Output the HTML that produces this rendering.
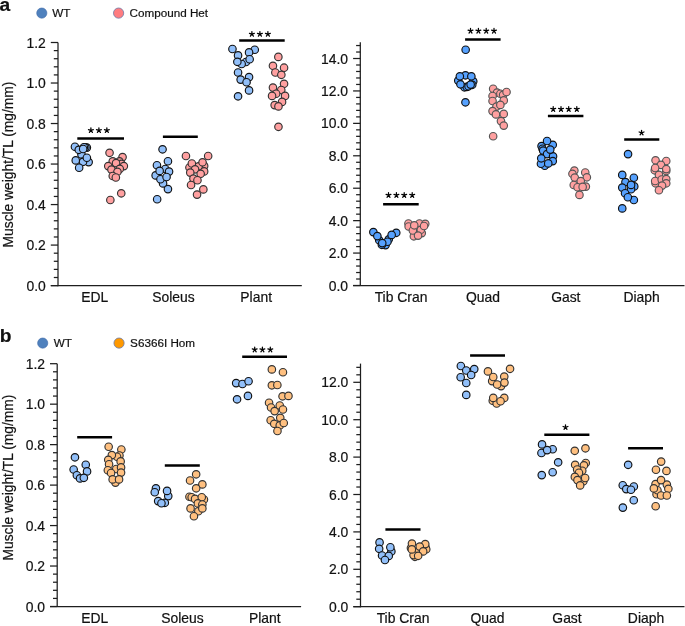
<!DOCTYPE html>
<html><head><meta charset="utf-8"><style>
html,body{margin:0;padding:0;background:#fff;width:685px;height:626px;overflow:hidden}
svg{display:block;will-change:transform}
text{font-family:"Liberation Sans", sans-serif;fill:#111;stroke:#111;stroke-width:0.2px}
</style></head><body>
<svg width="685" height="626" viewBox="0 0 685 626">
<text x="-0.5" y="10.6" font-size="19.2" font-weight="bold">a</text>
<text x="-0.2" y="341.6" font-size="19.2" font-weight="bold">b</text>
<circle cx="41.8" cy="13.1" r="5.1" fill="#4f81bd" stroke="#3d68a8" stroke-width="0.6"/>
<text x="52.3" y="17" font-size="11.7">WT</text>
<circle cx="118.6" cy="13.1" r="5.1" fill="#ff7c80" stroke="#6a7aa8" stroke-width="0.8"/>
<text x="129.5" y="17" font-size="11.7">Compound Het</text>
<circle cx="42.7" cy="343.1" r="5.1" fill="#4f81bd" stroke="#3d68a8" stroke-width="0.6"/>
<text x="53.8" y="347" font-size="11.7">WT</text>
<circle cx="119.05" cy="343.1" r="5.1" fill="#ff9900" stroke="#6a7aa8" stroke-width="0.8"/>
<text x="130.1" y="347" font-size="11.7">S6366I Hom</text>
<text transform="translate(12.6,164.5) rotate(-90)" text-anchor="middle" font-size="13.8">Muscle weight/TL (mg/mm)</text>
<text transform="translate(12.6,477.6) rotate(-90)" text-anchor="middle" font-size="13.8">Muscle weight/TL (mg/mm)</text>
<line x1="58" y1="42.50" x2="58" y2="286.20" stroke="#1e1e1e" stroke-width="1.25"/>
<line x1="50.8" y1="285.6" x2="301.8" y2="285.6" stroke="#1e1e1e" stroke-width="1.25"/>
<line x1="50.8" y1="285.60" x2="58" y2="285.60" stroke="#1e1e1e" stroke-width="1.25"/>
<text x="45.80" y="290.60" text-anchor="end" font-size="13.9">0.0</text>
<line x1="53.8" y1="277.50" x2="58" y2="277.50" stroke="#1e1e1e" stroke-width="1.25"/>
<line x1="53.8" y1="269.39" x2="58" y2="269.39" stroke="#1e1e1e" stroke-width="1.25"/>
<line x1="53.8" y1="261.29" x2="58" y2="261.29" stroke="#1e1e1e" stroke-width="1.25"/>
<line x1="53.8" y1="253.19" x2="58" y2="253.19" stroke="#1e1e1e" stroke-width="1.25"/>
<line x1="50.8" y1="245.08" x2="58" y2="245.08" stroke="#1e1e1e" stroke-width="1.25"/>
<text x="45.80" y="250.08" text-anchor="end" font-size="13.9">0.2</text>
<line x1="53.8" y1="236.98" x2="58" y2="236.98" stroke="#1e1e1e" stroke-width="1.25"/>
<line x1="53.8" y1="228.88" x2="58" y2="228.88" stroke="#1e1e1e" stroke-width="1.25"/>
<line x1="53.8" y1="220.77" x2="58" y2="220.77" stroke="#1e1e1e" stroke-width="1.25"/>
<line x1="53.8" y1="212.67" x2="58" y2="212.67" stroke="#1e1e1e" stroke-width="1.25"/>
<line x1="50.8" y1="204.57" x2="58" y2="204.57" stroke="#1e1e1e" stroke-width="1.25"/>
<text x="45.80" y="209.57" text-anchor="end" font-size="13.9">0.4</text>
<line x1="53.8" y1="196.46" x2="58" y2="196.46" stroke="#1e1e1e" stroke-width="1.25"/>
<line x1="53.8" y1="188.36" x2="58" y2="188.36" stroke="#1e1e1e" stroke-width="1.25"/>
<line x1="53.8" y1="180.26" x2="58" y2="180.26" stroke="#1e1e1e" stroke-width="1.25"/>
<line x1="53.8" y1="172.15" x2="58" y2="172.15" stroke="#1e1e1e" stroke-width="1.25"/>
<line x1="50.8" y1="164.05" x2="58" y2="164.05" stroke="#1e1e1e" stroke-width="1.25"/>
<text x="45.80" y="169.05" text-anchor="end" font-size="13.9">0.6</text>
<line x1="53.8" y1="155.95" x2="58" y2="155.95" stroke="#1e1e1e" stroke-width="1.25"/>
<line x1="53.8" y1="147.84" x2="58" y2="147.84" stroke="#1e1e1e" stroke-width="1.25"/>
<line x1="53.8" y1="139.74" x2="58" y2="139.74" stroke="#1e1e1e" stroke-width="1.25"/>
<line x1="53.8" y1="131.64" x2="58" y2="131.64" stroke="#1e1e1e" stroke-width="1.25"/>
<line x1="50.8" y1="123.53" x2="58" y2="123.53" stroke="#1e1e1e" stroke-width="1.25"/>
<text x="45.80" y="128.53" text-anchor="end" font-size="13.9">0.8</text>
<line x1="53.8" y1="115.43" x2="58" y2="115.43" stroke="#1e1e1e" stroke-width="1.25"/>
<line x1="53.8" y1="107.33" x2="58" y2="107.33" stroke="#1e1e1e" stroke-width="1.25"/>
<line x1="53.8" y1="99.22" x2="58" y2="99.22" stroke="#1e1e1e" stroke-width="1.25"/>
<line x1="53.8" y1="91.12" x2="58" y2="91.12" stroke="#1e1e1e" stroke-width="1.25"/>
<line x1="50.8" y1="83.02" x2="58" y2="83.02" stroke="#1e1e1e" stroke-width="1.25"/>
<text x="45.80" y="88.02" text-anchor="end" font-size="13.9">1.0</text>
<line x1="53.8" y1="74.91" x2="58" y2="74.91" stroke="#1e1e1e" stroke-width="1.25"/>
<line x1="53.8" y1="66.81" x2="58" y2="66.81" stroke="#1e1e1e" stroke-width="1.25"/>
<line x1="53.8" y1="58.71" x2="58" y2="58.71" stroke="#1e1e1e" stroke-width="1.25"/>
<line x1="53.8" y1="50.60" x2="58" y2="50.60" stroke="#1e1e1e" stroke-width="1.25"/>
<line x1="50.8" y1="42.50" x2="58" y2="42.50" stroke="#1e1e1e" stroke-width="1.25"/>
<text x="45.80" y="47.50" text-anchor="end" font-size="13.9">1.2</text>
<line x1="360.3" y1="42.30" x2="360.3" y2="286.10" stroke="#1e1e1e" stroke-width="1.25"/>
<line x1="353.1" y1="285.5" x2="684.5" y2="285.5" stroke="#1e1e1e" stroke-width="1.25"/>
<line x1="353.1" y1="285.50" x2="360.3" y2="285.50" stroke="#1e1e1e" stroke-width="1.25"/>
<text x="348.10" y="290.50" text-anchor="end" font-size="13.9">0.0</text>
<line x1="356.1" y1="279.01" x2="360.3" y2="279.01" stroke="#1e1e1e" stroke-width="1.25"/>
<line x1="356.1" y1="272.53" x2="360.3" y2="272.53" stroke="#1e1e1e" stroke-width="1.25"/>
<line x1="356.1" y1="266.04" x2="360.3" y2="266.04" stroke="#1e1e1e" stroke-width="1.25"/>
<line x1="356.1" y1="259.56" x2="360.3" y2="259.56" stroke="#1e1e1e" stroke-width="1.25"/>
<line x1="353.1" y1="253.07" x2="360.3" y2="253.07" stroke="#1e1e1e" stroke-width="1.25"/>
<text x="348.10" y="258.07" text-anchor="end" font-size="13.9">2.0</text>
<line x1="356.1" y1="246.59" x2="360.3" y2="246.59" stroke="#1e1e1e" stroke-width="1.25"/>
<line x1="356.1" y1="240.10" x2="360.3" y2="240.10" stroke="#1e1e1e" stroke-width="1.25"/>
<line x1="356.1" y1="233.62" x2="360.3" y2="233.62" stroke="#1e1e1e" stroke-width="1.25"/>
<line x1="356.1" y1="227.13" x2="360.3" y2="227.13" stroke="#1e1e1e" stroke-width="1.25"/>
<line x1="353.1" y1="220.65" x2="360.3" y2="220.65" stroke="#1e1e1e" stroke-width="1.25"/>
<text x="348.10" y="225.65" text-anchor="end" font-size="13.9">4.0</text>
<line x1="356.1" y1="214.16" x2="360.3" y2="214.16" stroke="#1e1e1e" stroke-width="1.25"/>
<line x1="356.1" y1="207.68" x2="360.3" y2="207.68" stroke="#1e1e1e" stroke-width="1.25"/>
<line x1="356.1" y1="201.19" x2="360.3" y2="201.19" stroke="#1e1e1e" stroke-width="1.25"/>
<line x1="356.1" y1="194.71" x2="360.3" y2="194.71" stroke="#1e1e1e" stroke-width="1.25"/>
<line x1="353.1" y1="188.22" x2="360.3" y2="188.22" stroke="#1e1e1e" stroke-width="1.25"/>
<text x="348.10" y="193.22" text-anchor="end" font-size="13.9">6.0</text>
<line x1="356.1" y1="181.73" x2="360.3" y2="181.73" stroke="#1e1e1e" stroke-width="1.25"/>
<line x1="356.1" y1="175.25" x2="360.3" y2="175.25" stroke="#1e1e1e" stroke-width="1.25"/>
<line x1="356.1" y1="168.76" x2="360.3" y2="168.76" stroke="#1e1e1e" stroke-width="1.25"/>
<line x1="356.1" y1="162.28" x2="360.3" y2="162.28" stroke="#1e1e1e" stroke-width="1.25"/>
<line x1="353.1" y1="155.79" x2="360.3" y2="155.79" stroke="#1e1e1e" stroke-width="1.25"/>
<text x="348.10" y="160.79" text-anchor="end" font-size="13.9">8.0</text>
<line x1="356.1" y1="149.31" x2="360.3" y2="149.31" stroke="#1e1e1e" stroke-width="1.25"/>
<line x1="356.1" y1="142.82" x2="360.3" y2="142.82" stroke="#1e1e1e" stroke-width="1.25"/>
<line x1="356.1" y1="136.34" x2="360.3" y2="136.34" stroke="#1e1e1e" stroke-width="1.25"/>
<line x1="356.1" y1="129.85" x2="360.3" y2="129.85" stroke="#1e1e1e" stroke-width="1.25"/>
<line x1="353.1" y1="123.37" x2="360.3" y2="123.37" stroke="#1e1e1e" stroke-width="1.25"/>
<text x="348.10" y="128.37" text-anchor="end" font-size="13.9">10.0</text>
<line x1="356.1" y1="116.88" x2="360.3" y2="116.88" stroke="#1e1e1e" stroke-width="1.25"/>
<line x1="356.1" y1="110.40" x2="360.3" y2="110.40" stroke="#1e1e1e" stroke-width="1.25"/>
<line x1="356.1" y1="103.91" x2="360.3" y2="103.91" stroke="#1e1e1e" stroke-width="1.25"/>
<line x1="356.1" y1="97.43" x2="360.3" y2="97.43" stroke="#1e1e1e" stroke-width="1.25"/>
<line x1="353.1" y1="90.94" x2="360.3" y2="90.94" stroke="#1e1e1e" stroke-width="1.25"/>
<text x="348.10" y="95.94" text-anchor="end" font-size="13.9">12.0</text>
<line x1="356.1" y1="84.45" x2="360.3" y2="84.45" stroke="#1e1e1e" stroke-width="1.25"/>
<line x1="356.1" y1="77.97" x2="360.3" y2="77.97" stroke="#1e1e1e" stroke-width="1.25"/>
<line x1="356.1" y1="71.48" x2="360.3" y2="71.48" stroke="#1e1e1e" stroke-width="1.25"/>
<line x1="356.1" y1="65.00" x2="360.3" y2="65.00" stroke="#1e1e1e" stroke-width="1.25"/>
<line x1="353.1" y1="58.51" x2="360.3" y2="58.51" stroke="#1e1e1e" stroke-width="1.25"/>
<text x="348.10" y="63.51" text-anchor="end" font-size="13.9">14.0</text>
<line x1="356.1" y1="52.03" x2="360.3" y2="52.03" stroke="#1e1e1e" stroke-width="1.25"/>
<line x1="356.1" y1="45.54" x2="360.3" y2="45.54" stroke="#1e1e1e" stroke-width="1.25"/>
<line x1="57.2" y1="363.70" x2="57.2" y2="607.10" stroke="#1e1e1e" stroke-width="1.25"/>
<line x1="50.0" y1="606.5" x2="301.1" y2="606.5" stroke="#1e1e1e" stroke-width="1.25"/>
<line x1="50.0" y1="606.50" x2="57.2" y2="606.50" stroke="#1e1e1e" stroke-width="1.25"/>
<text x="45.00" y="611.50" text-anchor="end" font-size="13.9">0.0</text>
<line x1="53.0" y1="598.41" x2="57.2" y2="598.41" stroke="#1e1e1e" stroke-width="1.25"/>
<line x1="53.0" y1="590.31" x2="57.2" y2="590.31" stroke="#1e1e1e" stroke-width="1.25"/>
<line x1="53.0" y1="582.22" x2="57.2" y2="582.22" stroke="#1e1e1e" stroke-width="1.25"/>
<line x1="53.0" y1="574.13" x2="57.2" y2="574.13" stroke="#1e1e1e" stroke-width="1.25"/>
<line x1="50.0" y1="566.03" x2="57.2" y2="566.03" stroke="#1e1e1e" stroke-width="1.25"/>
<text x="45.00" y="571.03" text-anchor="end" font-size="13.9">0.2</text>
<line x1="53.0" y1="557.94" x2="57.2" y2="557.94" stroke="#1e1e1e" stroke-width="1.25"/>
<line x1="53.0" y1="549.85" x2="57.2" y2="549.85" stroke="#1e1e1e" stroke-width="1.25"/>
<line x1="53.0" y1="541.75" x2="57.2" y2="541.75" stroke="#1e1e1e" stroke-width="1.25"/>
<line x1="53.0" y1="533.66" x2="57.2" y2="533.66" stroke="#1e1e1e" stroke-width="1.25"/>
<line x1="50.0" y1="525.57" x2="57.2" y2="525.57" stroke="#1e1e1e" stroke-width="1.25"/>
<text x="45.00" y="530.57" text-anchor="end" font-size="13.9">0.4</text>
<line x1="53.0" y1="517.47" x2="57.2" y2="517.47" stroke="#1e1e1e" stroke-width="1.25"/>
<line x1="53.0" y1="509.38" x2="57.2" y2="509.38" stroke="#1e1e1e" stroke-width="1.25"/>
<line x1="53.0" y1="501.29" x2="57.2" y2="501.29" stroke="#1e1e1e" stroke-width="1.25"/>
<line x1="53.0" y1="493.19" x2="57.2" y2="493.19" stroke="#1e1e1e" stroke-width="1.25"/>
<line x1="50.0" y1="485.10" x2="57.2" y2="485.10" stroke="#1e1e1e" stroke-width="1.25"/>
<text x="45.00" y="490.10" text-anchor="end" font-size="13.9">0.6</text>
<line x1="53.0" y1="477.01" x2="57.2" y2="477.01" stroke="#1e1e1e" stroke-width="1.25"/>
<line x1="53.0" y1="468.91" x2="57.2" y2="468.91" stroke="#1e1e1e" stroke-width="1.25"/>
<line x1="53.0" y1="460.82" x2="57.2" y2="460.82" stroke="#1e1e1e" stroke-width="1.25"/>
<line x1="53.0" y1="452.73" x2="57.2" y2="452.73" stroke="#1e1e1e" stroke-width="1.25"/>
<line x1="50.0" y1="444.63" x2="57.2" y2="444.63" stroke="#1e1e1e" stroke-width="1.25"/>
<text x="45.00" y="449.63" text-anchor="end" font-size="13.9">0.8</text>
<line x1="53.0" y1="436.54" x2="57.2" y2="436.54" stroke="#1e1e1e" stroke-width="1.25"/>
<line x1="53.0" y1="428.45" x2="57.2" y2="428.45" stroke="#1e1e1e" stroke-width="1.25"/>
<line x1="53.0" y1="420.35" x2="57.2" y2="420.35" stroke="#1e1e1e" stroke-width="1.25"/>
<line x1="53.0" y1="412.26" x2="57.2" y2="412.26" stroke="#1e1e1e" stroke-width="1.25"/>
<line x1="50.0" y1="404.17" x2="57.2" y2="404.17" stroke="#1e1e1e" stroke-width="1.25"/>
<text x="45.00" y="409.17" text-anchor="end" font-size="13.9">1.0</text>
<line x1="53.0" y1="396.07" x2="57.2" y2="396.07" stroke="#1e1e1e" stroke-width="1.25"/>
<line x1="53.0" y1="387.98" x2="57.2" y2="387.98" stroke="#1e1e1e" stroke-width="1.25"/>
<line x1="53.0" y1="379.89" x2="57.2" y2="379.89" stroke="#1e1e1e" stroke-width="1.25"/>
<line x1="53.0" y1="371.79" x2="57.2" y2="371.79" stroke="#1e1e1e" stroke-width="1.25"/>
<line x1="50.0" y1="363.70" x2="57.2" y2="363.70" stroke="#1e1e1e" stroke-width="1.25"/>
<text x="45.00" y="368.70" text-anchor="end" font-size="13.9">1.2</text>
<line x1="360.5" y1="363.60" x2="360.5" y2="607.30" stroke="#1e1e1e" stroke-width="1.25"/>
<line x1="353.3" y1="606.6999999999999" x2="684.5" y2="606.6999999999999" stroke="#1e1e1e" stroke-width="1.25"/>
<line x1="353.3" y1="606.70" x2="360.5" y2="606.70" stroke="#1e1e1e" stroke-width="1.25"/>
<text x="348.30" y="611.70" text-anchor="end" font-size="13.9">0.0</text>
<line x1="356.3" y1="599.22" x2="360.5" y2="599.22" stroke="#1e1e1e" stroke-width="1.25"/>
<line x1="356.3" y1="591.74" x2="360.5" y2="591.74" stroke="#1e1e1e" stroke-width="1.25"/>
<line x1="356.3" y1="584.26" x2="360.5" y2="584.26" stroke="#1e1e1e" stroke-width="1.25"/>
<line x1="356.3" y1="576.78" x2="360.5" y2="576.78" stroke="#1e1e1e" stroke-width="1.25"/>
<line x1="353.3" y1="569.30" x2="360.5" y2="569.30" stroke="#1e1e1e" stroke-width="1.25"/>
<text x="348.30" y="574.30" text-anchor="end" font-size="13.9">2.0</text>
<line x1="356.3" y1="561.82" x2="360.5" y2="561.82" stroke="#1e1e1e" stroke-width="1.25"/>
<line x1="356.3" y1="554.34" x2="360.5" y2="554.34" stroke="#1e1e1e" stroke-width="1.25"/>
<line x1="356.3" y1="546.86" x2="360.5" y2="546.86" stroke="#1e1e1e" stroke-width="1.25"/>
<line x1="356.3" y1="539.38" x2="360.5" y2="539.38" stroke="#1e1e1e" stroke-width="1.25"/>
<line x1="353.3" y1="531.90" x2="360.5" y2="531.90" stroke="#1e1e1e" stroke-width="1.25"/>
<text x="348.30" y="536.90" text-anchor="end" font-size="13.9">4.0</text>
<line x1="356.3" y1="524.42" x2="360.5" y2="524.42" stroke="#1e1e1e" stroke-width="1.25"/>
<line x1="356.3" y1="516.94" x2="360.5" y2="516.94" stroke="#1e1e1e" stroke-width="1.25"/>
<line x1="356.3" y1="509.46" x2="360.5" y2="509.46" stroke="#1e1e1e" stroke-width="1.25"/>
<line x1="356.3" y1="501.98" x2="360.5" y2="501.98" stroke="#1e1e1e" stroke-width="1.25"/>
<line x1="353.3" y1="494.50" x2="360.5" y2="494.50" stroke="#1e1e1e" stroke-width="1.25"/>
<text x="348.30" y="499.50" text-anchor="end" font-size="13.9">6.0</text>
<line x1="356.3" y1="487.02" x2="360.5" y2="487.02" stroke="#1e1e1e" stroke-width="1.25"/>
<line x1="356.3" y1="479.54" x2="360.5" y2="479.54" stroke="#1e1e1e" stroke-width="1.25"/>
<line x1="356.3" y1="472.06" x2="360.5" y2="472.06" stroke="#1e1e1e" stroke-width="1.25"/>
<line x1="356.3" y1="464.58" x2="360.5" y2="464.58" stroke="#1e1e1e" stroke-width="1.25"/>
<line x1="353.3" y1="457.10" x2="360.5" y2="457.10" stroke="#1e1e1e" stroke-width="1.25"/>
<text x="348.30" y="462.10" text-anchor="end" font-size="13.9">8.0</text>
<line x1="356.3" y1="449.62" x2="360.5" y2="449.62" stroke="#1e1e1e" stroke-width="1.25"/>
<line x1="356.3" y1="442.14" x2="360.5" y2="442.14" stroke="#1e1e1e" stroke-width="1.25"/>
<line x1="356.3" y1="434.66" x2="360.5" y2="434.66" stroke="#1e1e1e" stroke-width="1.25"/>
<line x1="356.3" y1="427.18" x2="360.5" y2="427.18" stroke="#1e1e1e" stroke-width="1.25"/>
<line x1="353.3" y1="419.70" x2="360.5" y2="419.70" stroke="#1e1e1e" stroke-width="1.25"/>
<text x="348.30" y="424.70" text-anchor="end" font-size="13.9">10.0</text>
<line x1="356.3" y1="412.22" x2="360.5" y2="412.22" stroke="#1e1e1e" stroke-width="1.25"/>
<line x1="356.3" y1="404.74" x2="360.5" y2="404.74" stroke="#1e1e1e" stroke-width="1.25"/>
<line x1="356.3" y1="397.26" x2="360.5" y2="397.26" stroke="#1e1e1e" stroke-width="1.25"/>
<line x1="356.3" y1="389.78" x2="360.5" y2="389.78" stroke="#1e1e1e" stroke-width="1.25"/>
<line x1="353.3" y1="382.30" x2="360.5" y2="382.30" stroke="#1e1e1e" stroke-width="1.25"/>
<text x="348.30" y="387.30" text-anchor="end" font-size="13.9">12.0</text>
<line x1="356.3" y1="374.82" x2="360.5" y2="374.82" stroke="#1e1e1e" stroke-width="1.25"/>
<line x1="356.3" y1="367.34" x2="360.5" y2="367.34" stroke="#1e1e1e" stroke-width="1.25"/>
<text x="94.85" y="302.0" text-anchor="middle" font-size="13.9">EDL</text>
<text x="173.4" y="302.0" text-anchor="middle" font-size="13.9">Soleus</text>
<text x="256.2" y="302.0" text-anchor="middle" font-size="13.9">Plant</text>
<text x="401" y="302.0" text-anchor="middle" font-size="13.9">Tib Cran</text>
<text x="482.9" y="302.0" text-anchor="middle" font-size="13.9">Quad</text>
<text x="565.8" y="302.0" text-anchor="middle" font-size="13.9">Gast</text>
<text x="641.6" y="302.0" text-anchor="middle" font-size="13.9">Diaph</text>
<text x="94.8" y="623.2" text-anchor="middle" font-size="13.9">EDL</text>
<text x="182.4" y="623.2" text-anchor="middle" font-size="13.9">Soleus</text>
<text x="264.8" y="623.2" text-anchor="middle" font-size="13.9">Plant</text>
<text x="403" y="623.2" text-anchor="middle" font-size="13.9">Tib Cran</text>
<text x="487.4" y="623.2" text-anchor="middle" font-size="13.9">Quad</text>
<text x="567" y="623.2" text-anchor="middle" font-size="13.9">Gast</text>
<text x="646" y="623.2" text-anchor="middle" font-size="13.9">Diaph</text>
<line x1="77.3" y1="138.50" x2="124.0" y2="138.50" stroke="#000" stroke-width="2.5"/>
<line x1="162.9" y1="136.80" x2="197.8" y2="136.80" stroke="#000" stroke-width="2.5"/>
<line x1="239.2" y1="40.40" x2="284.7" y2="40.40" stroke="#000" stroke-width="2.5"/>
<line x1="383.1" y1="204.20" x2="418.7" y2="204.20" stroke="#000" stroke-width="2.5"/>
<line x1="465.1" y1="39.40" x2="500.6" y2="39.40" stroke="#000" stroke-width="2.5"/>
<line x1="547.9" y1="115.90" x2="583.4" y2="115.90" stroke="#000" stroke-width="2.5"/>
<line x1="624.2" y1="139.60" x2="659.3" y2="139.60" stroke="#000" stroke-width="2.5"/>
<line x1="77.2" y1="437.20" x2="112.1" y2="437.20" stroke="#000" stroke-width="2.5"/>
<line x1="164.8" y1="465.60" x2="199.8" y2="465.60" stroke="#000" stroke-width="2.5"/>
<line x1="242.2" y1="356.70" x2="287.0" y2="356.70" stroke="#000" stroke-width="2.5"/>
<line x1="385.4" y1="529.50" x2="420.5" y2="529.50" stroke="#000" stroke-width="2.5"/>
<line x1="470.1" y1="355.40" x2="505.0" y2="355.40" stroke="#000" stroke-width="2.5"/>
<line x1="544.3" y1="434.70" x2="589.4" y2="434.70" stroke="#000" stroke-width="2.5"/>
<line x1="628.1" y1="448.20" x2="663.0" y2="448.20" stroke="#000" stroke-width="2.5"/>
<path d="M90.90 130.40L90.90 127.85M90.90 130.40L93.33 129.61M90.90 130.40L92.40 132.46M90.90 130.40L89.40 132.46M90.90 130.40L88.47 129.61" stroke="#000" stroke-width="1.25" stroke-linecap="round" fill="none"/>
<path d="M98.90 130.40L98.90 127.85M98.90 130.40L101.33 129.61M98.90 130.40L100.40 132.46M98.90 130.40L97.40 132.46M98.90 130.40L96.47 129.61" stroke="#000" stroke-width="1.25" stroke-linecap="round" fill="none"/>
<path d="M106.85 130.40L106.85 127.85M106.85 130.40L109.28 129.61M106.85 130.40L108.35 132.46M106.85 130.40L105.35 132.46M106.85 130.40L104.42 129.61" stroke="#000" stroke-width="1.25" stroke-linecap="round" fill="none"/>
<path d="M251.90 34.10L251.90 31.55M251.90 34.10L254.33 33.31M251.90 34.10L253.40 36.16M251.90 34.10L250.40 36.16M251.90 34.10L249.47 33.31" stroke="#000" stroke-width="1.25" stroke-linecap="round" fill="none"/>
<path d="M259.90 34.10L259.90 31.55M259.90 34.10L262.33 33.31M259.90 34.10L261.40 36.16M259.90 34.10L258.40 36.16M259.90 34.10L257.47 33.31" stroke="#000" stroke-width="1.25" stroke-linecap="round" fill="none"/>
<path d="M267.90 34.10L267.90 31.55M267.90 34.10L270.33 33.31M267.90 34.10L269.40 36.16M267.90 34.10L266.40 36.16M267.90 34.10L265.47 33.31" stroke="#000" stroke-width="1.25" stroke-linecap="round" fill="none"/>
<path d="M388.50 195.20L388.50 192.65M388.50 195.20L390.93 194.41M388.50 195.20L390.00 197.26M388.50 195.20L387.00 197.26M388.50 195.20L386.07 194.41" stroke="#000" stroke-width="1.25" stroke-linecap="round" fill="none"/>
<path d="M396.40 195.20L396.40 192.65M396.40 195.20L398.83 194.41M396.40 195.20L397.90 197.26M396.40 195.20L394.90 197.26M396.40 195.20L393.97 194.41" stroke="#000" stroke-width="1.25" stroke-linecap="round" fill="none"/>
<path d="M404.20 195.20L404.20 192.65M404.20 195.20L406.63 194.41M404.20 195.20L405.70 197.26M404.20 195.20L402.70 197.26M404.20 195.20L401.77 194.41" stroke="#000" stroke-width="1.25" stroke-linecap="round" fill="none"/>
<path d="M412.20 195.20L412.20 192.65M412.20 195.20L414.63 194.41M412.20 195.20L413.70 197.26M412.20 195.20L410.70 197.26M412.20 195.20L409.77 194.41" stroke="#000" stroke-width="1.25" stroke-linecap="round" fill="none"/>
<path d="M470.50 30.95L470.50 28.40M470.50 30.95L472.93 30.16M470.50 30.95L472.00 33.01M470.50 30.95L469.00 33.01M470.50 30.95L468.07 30.16" stroke="#000" stroke-width="1.25" stroke-linecap="round" fill="none"/>
<path d="M478.40 30.95L478.40 28.40M478.40 30.95L480.83 30.16M478.40 30.95L479.90 33.01M478.40 30.95L476.90 33.01M478.40 30.95L475.97 30.16" stroke="#000" stroke-width="1.25" stroke-linecap="round" fill="none"/>
<path d="M486.20 30.95L486.20 28.40M486.20 30.95L488.63 30.16M486.20 30.95L487.70 33.01M486.20 30.95L484.70 33.01M486.20 30.95L483.77 30.16" stroke="#000" stroke-width="1.25" stroke-linecap="round" fill="none"/>
<path d="M494.00 30.95L494.00 28.40M494.00 30.95L496.43 30.16M494.00 30.95L495.50 33.01M494.00 30.95L492.50 33.01M494.00 30.95L491.57 30.16" stroke="#000" stroke-width="1.25" stroke-linecap="round" fill="none"/>
<path d="M553.20 109.20L553.20 106.65M553.20 109.20L555.63 108.41M553.20 109.20L554.70 111.26M553.20 109.20L551.70 111.26M553.20 109.20L550.77 108.41" stroke="#000" stroke-width="1.25" stroke-linecap="round" fill="none"/>
<path d="M561.00 109.20L561.00 106.65M561.00 109.20L563.43 108.41M561.00 109.20L562.50 111.26M561.00 109.20L559.50 111.26M561.00 109.20L558.57 108.41" stroke="#000" stroke-width="1.25" stroke-linecap="round" fill="none"/>
<path d="M568.70 109.20L568.70 106.65M568.70 109.20L571.13 108.41M568.70 109.20L570.20 111.26M568.70 109.20L567.20 111.26M568.70 109.20L566.27 108.41" stroke="#000" stroke-width="1.25" stroke-linecap="round" fill="none"/>
<path d="M576.80 109.20L576.80 106.65M576.80 109.20L579.23 108.41M576.80 109.20L578.30 111.26M576.80 109.20L575.30 111.26M576.80 109.20L574.37 108.41" stroke="#000" stroke-width="1.25" stroke-linecap="round" fill="none"/>
<path d="M641.56 132.80L641.56 130.25M641.56 132.80L643.99 132.01M641.56 132.80L643.06 134.86M641.56 132.80L640.06 134.86M641.56 132.80L639.13 132.01" stroke="#000" stroke-width="1.25" stroke-linecap="round" fill="none"/>
<path d="M254.70 349.70L254.70 347.15M254.70 349.70L257.13 348.91M254.70 349.70L256.20 351.76M254.70 349.70L253.20 351.76M254.70 349.70L252.27 348.91" stroke="#000" stroke-width="1.25" stroke-linecap="round" fill="none"/>
<path d="M262.40 349.70L262.40 347.15M262.40 349.70L264.83 348.91M262.40 349.70L263.90 351.76M262.40 349.70L260.90 351.76M262.40 349.70L259.97 348.91" stroke="#000" stroke-width="1.25" stroke-linecap="round" fill="none"/>
<path d="M270.30 349.70L270.30 347.15M270.30 349.70L272.73 348.91M270.30 349.70L271.80 351.76M270.30 349.70L268.80 351.76M270.30 349.70L267.87 348.91" stroke="#000" stroke-width="1.25" stroke-linecap="round" fill="none"/>
<path d="M565.50 427.30L565.50 424.75M565.50 427.30L567.93 426.51M565.50 427.30L567.00 429.36M565.50 427.30L564.00 429.36M565.50 427.30L563.07 426.51" stroke="#000" stroke-width="1.25" stroke-linecap="round" fill="none"/>
<circle cx="74.95" cy="146.70" r="3.75" fill="#91bff9" stroke="#111" stroke-width="1.15"/>
<circle cx="81.45" cy="154.40" r="3.75" fill="#91bff9" stroke="#111" stroke-width="1.15"/>
<circle cx="78.75" cy="149.80" r="3.75" fill="#91bff9" stroke="#111" stroke-width="1.15"/>
<circle cx="86.85" cy="147.60" r="3.75" fill="#91bff9" stroke="#111" stroke-width="1.15"/>
<circle cx="85.35" cy="147.40" r="3.75" fill="#91bff9" stroke="#111" stroke-width="1.15"/>
<circle cx="83.85" cy="147.20" r="3.75" fill="#91bff9" stroke="#111" stroke-width="1.15"/>
<circle cx="83.15" cy="149.00" r="3.75" fill="#91bff9" stroke="#111" stroke-width="1.15"/>
<circle cx="88.65" cy="162.10" r="3.75" fill="#91bff9" stroke="#111" stroke-width="1.15"/>
<circle cx="83.05" cy="161.80" r="3.75" fill="#91bff9" stroke="#111" stroke-width="1.15"/>
<circle cx="75.75" cy="160.40" r="3.75" fill="#91bff9" stroke="#111" stroke-width="1.15"/>
<circle cx="86.85" cy="157.70" r="3.75" fill="#91bff9" stroke="#111" stroke-width="1.15"/>
<circle cx="79.15" cy="167.70" r="3.75" fill="#91bff9" stroke="#111" stroke-width="1.15"/>
<circle cx="109.55" cy="152.80" r="3.75" fill="#ffa0a0" stroke="#333" stroke-width="1.15"/>
<circle cx="122.55" cy="157.10" r="3.75" fill="#ffa0a0" stroke="#333" stroke-width="1.15"/>
<circle cx="112.75" cy="161.30" r="3.75" fill="#ffa0a0" stroke="#333" stroke-width="1.15"/>
<circle cx="119.45" cy="161.30" r="3.75" fill="#ffa0a0" stroke="#333" stroke-width="1.15"/>
<circle cx="121.35" cy="163.80" r="3.75" fill="#ffa0a0" stroke="#333" stroke-width="1.15"/>
<circle cx="116.05" cy="163.10" r="3.75" fill="#ffa0a0" stroke="#333" stroke-width="1.15"/>
<circle cx="108.25" cy="166.10" r="3.75" fill="#ffa0a0" stroke="#333" stroke-width="1.15"/>
<circle cx="123.85" cy="166.10" r="3.75" fill="#ffa0a0" stroke="#333" stroke-width="1.15"/>
<circle cx="111.45" cy="169.60" r="3.75" fill="#ffa0a0" stroke="#333" stroke-width="1.15"/>
<circle cx="119.75" cy="168.90" r="3.75" fill="#ffa0a0" stroke="#333" stroke-width="1.15"/>
<circle cx="117.45" cy="171.80" r="3.75" fill="#ffa0a0" stroke="#333" stroke-width="1.15"/>
<circle cx="112.75" cy="176.00" r="3.75" fill="#ffa0a0" stroke="#333" stroke-width="1.15"/>
<circle cx="115.85" cy="177.50" r="3.75" fill="#ffa0a0" stroke="#333" stroke-width="1.15"/>
<circle cx="121.25" cy="193.30" r="3.75" fill="#ffa0a0" stroke="#333" stroke-width="1.15"/>
<circle cx="110.35" cy="200.00" r="3.75" fill="#ffa0a0" stroke="#333" stroke-width="1.15"/>
<circle cx="162.55" cy="149.30" r="3.75" fill="#91bff9" stroke="#111" stroke-width="1.15"/>
<circle cx="167.95" cy="161.20" r="3.75" fill="#91bff9" stroke="#111" stroke-width="1.15"/>
<circle cx="156.95" cy="165.20" r="3.75" fill="#91bff9" stroke="#111" stroke-width="1.15"/>
<circle cx="165.25" cy="169.00" r="3.75" fill="#91bff9" stroke="#111" stroke-width="1.15"/>
<circle cx="155.65" cy="175.40" r="3.75" fill="#91bff9" stroke="#111" stroke-width="1.15"/>
<circle cx="169.05" cy="171.60" r="3.75" fill="#91bff9" stroke="#111" stroke-width="1.15"/>
<circle cx="163.05" cy="183.40" r="3.75" fill="#91bff9" stroke="#111" stroke-width="1.15"/>
<circle cx="159.65" cy="170.90" r="3.75" fill="#91bff9" stroke="#111" stroke-width="1.15"/>
<circle cx="160.45" cy="179.20" r="3.75" fill="#91bff9" stroke="#111" stroke-width="1.15"/>
<circle cx="166.55" cy="177.00" r="3.75" fill="#91bff9" stroke="#111" stroke-width="1.15"/>
<circle cx="167.95" cy="189.10" r="3.75" fill="#91bff9" stroke="#111" stroke-width="1.15"/>
<circle cx="157.15" cy="199.20" r="3.75" fill="#91bff9" stroke="#111" stroke-width="1.15"/>
<circle cx="185.95" cy="156.00" r="3.75" fill="#ffa0a0" stroke="#333" stroke-width="1.15"/>
<circle cx="208.15" cy="156.00" r="3.75" fill="#ffa0a0" stroke="#333" stroke-width="1.15"/>
<circle cx="189.45" cy="167.50" r="3.75" fill="#ffa0a0" stroke="#333" stroke-width="1.15"/>
<circle cx="204.15" cy="165.90" r="3.75" fill="#ffa0a0" stroke="#333" stroke-width="1.15"/>
<circle cx="198.65" cy="166.30" r="3.75" fill="#ffa0a0" stroke="#333" stroke-width="1.15"/>
<circle cx="191.85" cy="163.50" r="3.75" fill="#ffa0a0" stroke="#333" stroke-width="1.15"/>
<circle cx="202.55" cy="162.30" r="3.75" fill="#ffa0a0" stroke="#333" stroke-width="1.15"/>
<circle cx="204.15" cy="171.40" r="3.75" fill="#ffa0a0" stroke="#333" stroke-width="1.15"/>
<circle cx="195.05" cy="169.30" r="3.75" fill="#ffa0a0" stroke="#333" stroke-width="1.15"/>
<circle cx="190.25" cy="172.60" r="3.75" fill="#ffa0a0" stroke="#333" stroke-width="1.15"/>
<circle cx="200.65" cy="173.80" r="3.75" fill="#ffa0a0" stroke="#333" stroke-width="1.15"/>
<circle cx="193.45" cy="178.60" r="3.75" fill="#ffa0a0" stroke="#333" stroke-width="1.15"/>
<circle cx="197.45" cy="180.20" r="3.75" fill="#ffa0a0" stroke="#333" stroke-width="1.15"/>
<circle cx="191.05" cy="185.00" r="3.75" fill="#ffa0a0" stroke="#333" stroke-width="1.15"/>
<circle cx="203.35" cy="189.40" r="3.75" fill="#ffa0a0" stroke="#333" stroke-width="1.15"/>
<circle cx="197.05" cy="194.60" r="3.75" fill="#ffa0a0" stroke="#333" stroke-width="1.15"/>
<circle cx="232.45" cy="49.00" r="3.75" fill="#91bff9" stroke="#111" stroke-width="1.15"/>
<circle cx="254.75" cy="49.70" r="3.75" fill="#91bff9" stroke="#111" stroke-width="1.15"/>
<circle cx="249.05" cy="52.40" r="3.75" fill="#91bff9" stroke="#111" stroke-width="1.15"/>
<circle cx="238.05" cy="55.40" r="3.75" fill="#91bff9" stroke="#111" stroke-width="1.15"/>
<circle cx="245.95" cy="62.00" r="3.75" fill="#91bff9" stroke="#111" stroke-width="1.15"/>
<circle cx="241.65" cy="64.00" r="3.75" fill="#91bff9" stroke="#111" stroke-width="1.15"/>
<circle cx="249.65" cy="59.20" r="3.75" fill="#91bff9" stroke="#111" stroke-width="1.15"/>
<circle cx="237.35" cy="61.80" r="3.75" fill="#91bff9" stroke="#111" stroke-width="1.15"/>
<circle cx="238.05" cy="72.50" r="3.75" fill="#91bff9" stroke="#111" stroke-width="1.15"/>
<circle cx="249.05" cy="77.10" r="3.75" fill="#91bff9" stroke="#111" stroke-width="1.15"/>
<circle cx="240.65" cy="79.60" r="3.75" fill="#91bff9" stroke="#111" stroke-width="1.15"/>
<circle cx="246.55" cy="82.20" r="3.75" fill="#91bff9" stroke="#111" stroke-width="1.15"/>
<circle cx="249.05" cy="90.40" r="3.75" fill="#91bff9" stroke="#111" stroke-width="1.15"/>
<circle cx="238.05" cy="96.30" r="3.75" fill="#91bff9" stroke="#111" stroke-width="1.15"/>
<circle cx="278.35" cy="56.90" r="3.75" fill="#ffa0a0" stroke="#333" stroke-width="1.15"/>
<circle cx="272.95" cy="65.80" r="3.75" fill="#ffa0a0" stroke="#333" stroke-width="1.15"/>
<circle cx="284.05" cy="67.70" r="3.75" fill="#ffa0a0" stroke="#333" stroke-width="1.15"/>
<circle cx="275.35" cy="72.50" r="3.75" fill="#ffa0a0" stroke="#333" stroke-width="1.15"/>
<circle cx="281.35" cy="74.80" r="3.75" fill="#ffa0a0" stroke="#333" stroke-width="1.15"/>
<circle cx="284.05" cy="83.80" r="3.75" fill="#ffa0a0" stroke="#333" stroke-width="1.15"/>
<circle cx="272.95" cy="87.60" r="3.75" fill="#ffa0a0" stroke="#333" stroke-width="1.15"/>
<circle cx="281.25" cy="90.00" r="3.75" fill="#ffa0a0" stroke="#333" stroke-width="1.15"/>
<circle cx="276.15" cy="93.70" r="3.75" fill="#ffa0a0" stroke="#333" stroke-width="1.15"/>
<circle cx="272.05" cy="95.90" r="3.75" fill="#ffa0a0" stroke="#333" stroke-width="1.15"/>
<circle cx="285.05" cy="95.90" r="3.75" fill="#ffa0a0" stroke="#333" stroke-width="1.15"/>
<circle cx="282.05" cy="101.90" r="3.75" fill="#ffa0a0" stroke="#333" stroke-width="1.15"/>
<circle cx="274.65" cy="105.10" r="3.75" fill="#ffa0a0" stroke="#333" stroke-width="1.15"/>
<circle cx="278.45" cy="106.40" r="3.75" fill="#ffa0a0" stroke="#333" stroke-width="1.15"/>
<circle cx="278.45" cy="126.80" r="3.75" fill="#ffa0a0" stroke="#333" stroke-width="1.15"/>
<circle cx="373.35" cy="232.10" r="3.75" fill="#56a1fe" stroke="#111" stroke-width="1.15"/>
<circle cx="396.25" cy="232.80" r="3.75" fill="#56a1fe" stroke="#111" stroke-width="1.15"/>
<circle cx="379.25" cy="240.30" r="3.75" fill="#56a1fe" stroke="#111" stroke-width="1.15"/>
<circle cx="388.75" cy="239.30" r="3.75" fill="#56a1fe" stroke="#111" stroke-width="1.15"/>
<circle cx="385.55" cy="245.10" r="3.75" fill="#56a1fe" stroke="#111" stroke-width="1.15"/>
<circle cx="381.85" cy="244.80" r="3.75" fill="#56a1fe" stroke="#111" stroke-width="1.15"/>
<circle cx="387.45" cy="241.70" r="3.75" fill="#56a1fe" stroke="#111" stroke-width="1.15"/>
<circle cx="377.35" cy="236.10" r="3.75" fill="#56a1fe" stroke="#111" stroke-width="1.15"/>
<circle cx="391.65" cy="234.90" r="3.75" fill="#56a1fe" stroke="#111" stroke-width="1.15"/>
<circle cx="382.25" cy="243.10" r="3.75" fill="#56a1fe" stroke="#111" stroke-width="1.15"/>
<circle cx="408.45" cy="223.50" r="3.75" fill="#ffa0a0" stroke="#555" stroke-width="1.15"/>
<circle cx="408.65" cy="226.50" r="3.75" fill="#ffa0a0" stroke="#555" stroke-width="1.15"/>
<circle cx="419.45" cy="223.50" r="3.75" fill="#ffa0a0" stroke="#555" stroke-width="1.15"/>
<circle cx="425.25" cy="223.80" r="3.75" fill="#ffa0a0" stroke="#555" stroke-width="1.15"/>
<circle cx="413.85" cy="236.30" r="3.75" fill="#ffa0a0" stroke="#555" stroke-width="1.15"/>
<circle cx="421.75" cy="233.10" r="3.75" fill="#ffa0a0" stroke="#555" stroke-width="1.15"/>
<circle cx="412.85" cy="230.50" r="3.75" fill="#ffa0a0" stroke="#555" stroke-width="1.15"/>
<circle cx="420.85" cy="229.80" r="3.75" fill="#ffa0a0" stroke="#555" stroke-width="1.15"/>
<circle cx="414.25" cy="225.30" r="3.75" fill="#ffa0a0" stroke="#555" stroke-width="1.15"/>
<circle cx="424.05" cy="226.00" r="3.75" fill="#ffa0a0" stroke="#555" stroke-width="1.15"/>
<circle cx="418.05" cy="235.60" r="3.75" fill="#ffa0a0" stroke="#555" stroke-width="1.15"/>
<circle cx="465.65" cy="49.70" r="3.75" fill="#56a1fe" stroke="#111" stroke-width="1.15"/>
<circle cx="465.45" cy="75.30" r="3.75" fill="#56a1fe" stroke="#111" stroke-width="1.15"/>
<circle cx="458.25" cy="80.60" r="3.75" fill="#56a1fe" stroke="#111" stroke-width="1.15"/>
<circle cx="473.25" cy="81.30" r="3.75" fill="#56a1fe" stroke="#111" stroke-width="1.15"/>
<circle cx="472.25" cy="84.80" r="3.75" fill="#56a1fe" stroke="#111" stroke-width="1.15"/>
<circle cx="464.45" cy="87.30" r="3.75" fill="#56a1fe" stroke="#111" stroke-width="1.15"/>
<circle cx="466.75" cy="86.90" r="3.75" fill="#56a1fe" stroke="#111" stroke-width="1.15"/>
<circle cx="468.55" cy="86.30" r="3.75" fill="#56a1fe" stroke="#111" stroke-width="1.15"/>
<circle cx="459.85" cy="76.30" r="3.75" fill="#56a1fe" stroke="#111" stroke-width="1.15"/>
<circle cx="471.35" cy="76.30" r="3.75" fill="#56a1fe" stroke="#111" stroke-width="1.15"/>
<circle cx="460.45" cy="84.30" r="3.75" fill="#56a1fe" stroke="#111" stroke-width="1.15"/>
<circle cx="470.65" cy="84.60" r="3.75" fill="#56a1fe" stroke="#111" stroke-width="1.15"/>
<circle cx="465.45" cy="102.30" r="3.75" fill="#56a1fe" stroke="#111" stroke-width="1.15"/>
<circle cx="493.15" cy="88.70" r="3.75" fill="#ffa0a0" stroke="#555" stroke-width="1.15"/>
<circle cx="497.05" cy="92.60" r="3.75" fill="#ffa0a0" stroke="#555" stroke-width="1.15"/>
<circle cx="500.35" cy="93.70" r="3.75" fill="#ffa0a0" stroke="#555" stroke-width="1.15"/>
<circle cx="503.15" cy="94.80" r="3.75" fill="#ffa0a0" stroke="#555" stroke-width="1.15"/>
<circle cx="506.55" cy="92.00" r="3.75" fill="#ffa0a0" stroke="#555" stroke-width="1.15"/>
<circle cx="492.55" cy="96.00" r="3.75" fill="#ffa0a0" stroke="#555" stroke-width="1.15"/>
<circle cx="492.55" cy="101.00" r="3.75" fill="#ffa0a0" stroke="#555" stroke-width="1.15"/>
<circle cx="503.75" cy="100.40" r="3.75" fill="#ffa0a0" stroke="#555" stroke-width="1.15"/>
<circle cx="496.45" cy="106.60" r="3.75" fill="#ffa0a0" stroke="#555" stroke-width="1.15"/>
<circle cx="500.35" cy="104.90" r="3.75" fill="#ffa0a0" stroke="#555" stroke-width="1.15"/>
<circle cx="492.55" cy="111.10" r="3.75" fill="#ffa0a0" stroke="#555" stroke-width="1.15"/>
<circle cx="495.95" cy="114.40" r="3.75" fill="#ffa0a0" stroke="#555" stroke-width="1.15"/>
<circle cx="503.75" cy="113.90" r="3.75" fill="#ffa0a0" stroke="#555" stroke-width="1.15"/>
<circle cx="500.95" cy="121.10" r="3.75" fill="#ffa0a0" stroke="#555" stroke-width="1.15"/>
<circle cx="503.75" cy="125.60" r="3.75" fill="#ffa0a0" stroke="#555" stroke-width="1.15"/>
<circle cx="493.15" cy="136.20" r="3.75" fill="#ffa0a0" stroke="#555" stroke-width="1.15"/>
<circle cx="552.75" cy="144.80" r="3.75" fill="#56a1fe" stroke="#111" stroke-width="1.15"/>
<circle cx="541.55" cy="146.10" r="3.75" fill="#56a1fe" stroke="#111" stroke-width="1.15"/>
<circle cx="542.55" cy="148.70" r="3.75" fill="#56a1fe" stroke="#111" stroke-width="1.15"/>
<circle cx="543.15" cy="150.60" r="3.75" fill="#56a1fe" stroke="#111" stroke-width="1.15"/>
<circle cx="547.05" cy="154.10" r="3.75" fill="#56a1fe" stroke="#111" stroke-width="1.15"/>
<circle cx="553.05" cy="156.30" r="3.75" fill="#56a1fe" stroke="#111" stroke-width="1.15"/>
<circle cx="552.75" cy="161.10" r="3.75" fill="#56a1fe" stroke="#111" stroke-width="1.15"/>
<circle cx="544.75" cy="165.70" r="3.75" fill="#56a1fe" stroke="#111" stroke-width="1.15"/>
<circle cx="540.95" cy="163.70" r="3.75" fill="#56a1fe" stroke="#111" stroke-width="1.15"/>
<circle cx="547.05" cy="141.00" r="3.75" fill="#56a1fe" stroke="#111" stroke-width="1.15"/>
<circle cx="550.25" cy="149.60" r="3.75" fill="#56a1fe" stroke="#111" stroke-width="1.15"/>
<circle cx="541.25" cy="158.30" r="3.75" fill="#56a1fe" stroke="#111" stroke-width="1.15"/>
<circle cx="548.25" cy="163.40" r="3.75" fill="#56a1fe" stroke="#111" stroke-width="1.15"/>
<circle cx="574.35" cy="170.60" r="3.75" fill="#ffa0a0" stroke="#555" stroke-width="1.15"/>
<circle cx="572.45" cy="173.80" r="3.75" fill="#ffa0a0" stroke="#555" stroke-width="1.15"/>
<circle cx="585.25" cy="172.50" r="3.75" fill="#ffa0a0" stroke="#555" stroke-width="1.15"/>
<circle cx="574.75" cy="177.60" r="3.75" fill="#ffa0a0" stroke="#555" stroke-width="1.15"/>
<circle cx="586.85" cy="177.30" r="3.75" fill="#ffa0a0" stroke="#555" stroke-width="1.15"/>
<circle cx="580.75" cy="181.10" r="3.75" fill="#ffa0a0" stroke="#555" stroke-width="1.15"/>
<circle cx="573.75" cy="185.00" r="3.75" fill="#ffa0a0" stroke="#555" stroke-width="1.15"/>
<circle cx="577.55" cy="187.20" r="3.75" fill="#ffa0a0" stroke="#555" stroke-width="1.15"/>
<circle cx="585.85" cy="186.60" r="3.75" fill="#ffa0a0" stroke="#555" stroke-width="1.15"/>
<circle cx="582.65" cy="186.90" r="3.75" fill="#ffa0a0" stroke="#555" stroke-width="1.15"/>
<circle cx="579.45" cy="194.90" r="3.75" fill="#ffa0a0" stroke="#555" stroke-width="1.15"/>
<circle cx="628.05" cy="154.10" r="3.75" fill="#56a1fe" stroke="#111" stroke-width="1.15"/>
<circle cx="622.25" cy="174.90" r="3.75" fill="#56a1fe" stroke="#111" stroke-width="1.15"/>
<circle cx="633.85" cy="177.70" r="3.75" fill="#56a1fe" stroke="#111" stroke-width="1.15"/>
<circle cx="625.45" cy="182.10" r="3.75" fill="#56a1fe" stroke="#111" stroke-width="1.15"/>
<circle cx="634.25" cy="186.40" r="3.75" fill="#56a1fe" stroke="#111" stroke-width="1.15"/>
<circle cx="622.25" cy="187.60" r="3.75" fill="#56a1fe" stroke="#111" stroke-width="1.15"/>
<circle cx="631.05" cy="189.20" r="3.75" fill="#56a1fe" stroke="#111" stroke-width="1.15"/>
<circle cx="631.05" cy="184.90" r="3.75" fill="#56a1fe" stroke="#111" stroke-width="1.15"/>
<circle cx="625.05" cy="193.20" r="3.75" fill="#56a1fe" stroke="#111" stroke-width="1.15"/>
<circle cx="633.85" cy="200.00" r="3.75" fill="#56a1fe" stroke="#111" stroke-width="1.15"/>
<circle cx="627.85" cy="197.20" r="3.75" fill="#56a1fe" stroke="#111" stroke-width="1.15"/>
<circle cx="622.25" cy="208.40" r="3.75" fill="#56a1fe" stroke="#111" stroke-width="1.15"/>
<circle cx="655.55" cy="160.30" r="3.75" fill="#ffa0a0" stroke="#555" stroke-width="1.15"/>
<circle cx="666.25" cy="161.00" r="3.75" fill="#ffa0a0" stroke="#555" stroke-width="1.15"/>
<circle cx="660.95" cy="164.90" r="3.75" fill="#ffa0a0" stroke="#555" stroke-width="1.15"/>
<circle cx="654.75" cy="170.30" r="3.75" fill="#ffa0a0" stroke="#555" stroke-width="1.15"/>
<circle cx="655.15" cy="168.00" r="3.75" fill="#ffa0a0" stroke="#555" stroke-width="1.15"/>
<circle cx="666.25" cy="171.00" r="3.75" fill="#ffa0a0" stroke="#555" stroke-width="1.15"/>
<circle cx="666.25" cy="169.10" r="3.75" fill="#ffa0a0" stroke="#555" stroke-width="1.15"/>
<circle cx="658.95" cy="174.90" r="3.75" fill="#ffa0a0" stroke="#555" stroke-width="1.15"/>
<circle cx="655.55" cy="183.30" r="3.75" fill="#ffa0a0" stroke="#555" stroke-width="1.15"/>
<circle cx="655.15" cy="181.00" r="3.75" fill="#ffa0a0" stroke="#555" stroke-width="1.15"/>
<circle cx="661.65" cy="179.50" r="3.75" fill="#ffa0a0" stroke="#555" stroke-width="1.15"/>
<circle cx="666.25" cy="179.10" r="3.75" fill="#ffa0a0" stroke="#555" stroke-width="1.15"/>
<circle cx="666.25" cy="183.30" r="3.75" fill="#ffa0a0" stroke="#555" stroke-width="1.15"/>
<circle cx="662.05" cy="185.60" r="3.75" fill="#ffa0a0" stroke="#555" stroke-width="1.15"/>
<circle cx="658.95" cy="190.20" r="3.75" fill="#ffa0a0" stroke="#555" stroke-width="1.15"/>
<circle cx="74.95" cy="457.30" r="3.75" fill="#91bff9" stroke="#111" stroke-width="1.15"/>
<circle cx="85.75" cy="464.70" r="3.75" fill="#91bff9" stroke="#111" stroke-width="1.15"/>
<circle cx="73.65" cy="469.50" r="3.75" fill="#91bff9" stroke="#111" stroke-width="1.15"/>
<circle cx="87.05" cy="471.40" r="3.75" fill="#91bff9" stroke="#111" stroke-width="1.15"/>
<circle cx="76.85" cy="475.20" r="3.75" fill="#91bff9" stroke="#111" stroke-width="1.15"/>
<circle cx="80.05" cy="478.40" r="3.75" fill="#91bff9" stroke="#111" stroke-width="1.15"/>
<circle cx="83.85" cy="477.80" r="3.75" fill="#91bff9" stroke="#111" stroke-width="1.15"/>
<circle cx="108.65" cy="446.70" r="3.75" fill="#ffc080" stroke="#333" stroke-width="1.15"/>
<circle cx="121.35" cy="449.50" r="3.75" fill="#ffc080" stroke="#333" stroke-width="1.15"/>
<circle cx="119.45" cy="455.50" r="3.75" fill="#ffc080" stroke="#333" stroke-width="1.15"/>
<circle cx="117.05" cy="456.70" r="3.75" fill="#ffc080" stroke="#333" stroke-width="1.15"/>
<circle cx="111.85" cy="455.10" r="3.75" fill="#ffc080" stroke="#333" stroke-width="1.15"/>
<circle cx="108.25" cy="459.80" r="3.75" fill="#ffc080" stroke="#333" stroke-width="1.15"/>
<circle cx="120.65" cy="461.40" r="3.75" fill="#ffc080" stroke="#333" stroke-width="1.15"/>
<circle cx="109.05" cy="464.20" r="3.75" fill="#ffc080" stroke="#333" stroke-width="1.15"/>
<circle cx="116.25" cy="469.00" r="3.75" fill="#ffc080" stroke="#333" stroke-width="1.15"/>
<circle cx="121.05" cy="467.40" r="3.75" fill="#ffc080" stroke="#333" stroke-width="1.15"/>
<circle cx="107.85" cy="470.20" r="3.75" fill="#ffc080" stroke="#333" stroke-width="1.15"/>
<circle cx="111.05" cy="473.00" r="3.75" fill="#ffc080" stroke="#333" stroke-width="1.15"/>
<circle cx="121.05" cy="472.60" r="3.75" fill="#ffc080" stroke="#333" stroke-width="1.15"/>
<circle cx="115.45" cy="482.60" r="3.75" fill="#ffc080" stroke="#333" stroke-width="1.15"/>
<circle cx="112.65" cy="479.40" r="3.75" fill="#ffc080" stroke="#333" stroke-width="1.15"/>
<circle cx="119.05" cy="479.40" r="3.75" fill="#ffc080" stroke="#333" stroke-width="1.15"/>
<circle cx="155.95" cy="488.30" r="3.75" fill="#91bff9" stroke="#111" stroke-width="1.15"/>
<circle cx="154.75" cy="492.20" r="3.75" fill="#91bff9" stroke="#111" stroke-width="1.15"/>
<circle cx="168.25" cy="496.10" r="3.75" fill="#91bff9" stroke="#111" stroke-width="1.15"/>
<circle cx="167.05" cy="490.90" r="3.75" fill="#91bff9" stroke="#111" stroke-width="1.15"/>
<circle cx="158.15" cy="501.10" r="3.75" fill="#91bff9" stroke="#111" stroke-width="1.15"/>
<circle cx="164.85" cy="502.80" r="3.75" fill="#91bff9" stroke="#111" stroke-width="1.15"/>
<circle cx="161.45" cy="503.20" r="3.75" fill="#91bff9" stroke="#111" stroke-width="1.15"/>
<circle cx="196.15" cy="474.30" r="3.75" fill="#ffc080" stroke="#333" stroke-width="1.15"/>
<circle cx="190.05" cy="480.50" r="3.75" fill="#ffc080" stroke="#333" stroke-width="1.15"/>
<circle cx="202.35" cy="484.40" r="3.75" fill="#ffc080" stroke="#333" stroke-width="1.15"/>
<circle cx="196.15" cy="488.30" r="3.75" fill="#ffc080" stroke="#333" stroke-width="1.15"/>
<circle cx="189.45" cy="496.70" r="3.75" fill="#ffc080" stroke="#333" stroke-width="1.15"/>
<circle cx="191.65" cy="497.20" r="3.75" fill="#ffc080" stroke="#333" stroke-width="1.15"/>
<circle cx="195.05" cy="498.90" r="3.75" fill="#ffc080" stroke="#333" stroke-width="1.15"/>
<circle cx="203.95" cy="499.50" r="3.75" fill="#ffc080" stroke="#333" stroke-width="1.15"/>
<circle cx="201.75" cy="497.20" r="3.75" fill="#ffc080" stroke="#333" stroke-width="1.15"/>
<circle cx="197.85" cy="503.40" r="3.75" fill="#ffc080" stroke="#333" stroke-width="1.15"/>
<circle cx="202.35" cy="504.50" r="3.75" fill="#ffc080" stroke="#333" stroke-width="1.15"/>
<circle cx="190.55" cy="508.40" r="3.75" fill="#ffc080" stroke="#333" stroke-width="1.15"/>
<circle cx="198.35" cy="511.20" r="3.75" fill="#ffc080" stroke="#333" stroke-width="1.15"/>
<circle cx="202.35" cy="508.40" r="3.75" fill="#ffc080" stroke="#333" stroke-width="1.15"/>
<circle cx="193.95" cy="516.20" r="3.75" fill="#ffc080" stroke="#333" stroke-width="1.15"/>
<circle cx="236.15" cy="383.10" r="3.75" fill="#91bff9" stroke="#111" stroke-width="1.15"/>
<circle cx="242.45" cy="384.00" r="3.75" fill="#91bff9" stroke="#111" stroke-width="1.15"/>
<circle cx="248.55" cy="381.20" r="3.75" fill="#91bff9" stroke="#111" stroke-width="1.15"/>
<circle cx="237.05" cy="399.30" r="3.75" fill="#91bff9" stroke="#111" stroke-width="1.15"/>
<circle cx="247.95" cy="395.90" r="3.75" fill="#91bff9" stroke="#111" stroke-width="1.15"/>
<circle cx="271.85" cy="369.40" r="3.75" fill="#ffc080" stroke="#333" stroke-width="1.15"/>
<circle cx="282.95" cy="372.20" r="3.75" fill="#ffc080" stroke="#333" stroke-width="1.15"/>
<circle cx="271.85" cy="385.30" r="3.75" fill="#ffc080" stroke="#333" stroke-width="1.15"/>
<circle cx="277.35" cy="385.00" r="3.75" fill="#ffc080" stroke="#333" stroke-width="1.15"/>
<circle cx="282.55" cy="396.30" r="3.75" fill="#ffc080" stroke="#333" stroke-width="1.15"/>
<circle cx="288.45" cy="395.90" r="3.75" fill="#ffc080" stroke="#333" stroke-width="1.15"/>
<circle cx="269.05" cy="402.70" r="3.75" fill="#ffc080" stroke="#333" stroke-width="1.15"/>
<circle cx="271.05" cy="407.50" r="3.75" fill="#ffc080" stroke="#333" stroke-width="1.15"/>
<circle cx="274.65" cy="411.10" r="3.75" fill="#ffc080" stroke="#333" stroke-width="1.15"/>
<circle cx="279.75" cy="405.50" r="3.75" fill="#ffc080" stroke="#333" stroke-width="1.15"/>
<circle cx="282.95" cy="409.50" r="3.75" fill="#ffc080" stroke="#333" stroke-width="1.15"/>
<circle cx="270.65" cy="420.20" r="3.75" fill="#ffc080" stroke="#333" stroke-width="1.15"/>
<circle cx="274.25" cy="423.80" r="3.75" fill="#ffc080" stroke="#333" stroke-width="1.15"/>
<circle cx="280.25" cy="417.80" r="3.75" fill="#ffc080" stroke="#333" stroke-width="1.15"/>
<circle cx="279.75" cy="425.40" r="3.75" fill="#ffc080" stroke="#333" stroke-width="1.15"/>
<circle cx="283.75" cy="423.00" r="3.75" fill="#ffc080" stroke="#333" stroke-width="1.15"/>
<circle cx="277.45" cy="431.00" r="3.75" fill="#ffc080" stroke="#333" stroke-width="1.15"/>
<circle cx="379.55" cy="542.40" r="3.75" fill="#91bff9" stroke="#111" stroke-width="1.15"/>
<circle cx="379.15" cy="548.80" r="3.75" fill="#91bff9" stroke="#111" stroke-width="1.15"/>
<circle cx="391.35" cy="551.40" r="3.75" fill="#91bff9" stroke="#111" stroke-width="1.15"/>
<circle cx="390.35" cy="547.20" r="3.75" fill="#91bff9" stroke="#111" stroke-width="1.15"/>
<circle cx="382.05" cy="555.50" r="3.75" fill="#91bff9" stroke="#111" stroke-width="1.15"/>
<circle cx="388.75" cy="555.90" r="3.75" fill="#91bff9" stroke="#111" stroke-width="1.15"/>
<circle cx="384.95" cy="560.00" r="3.75" fill="#91bff9" stroke="#111" stroke-width="1.15"/>
<circle cx="410.95" cy="548.00" r="3.75" fill="#ffc080" stroke="#333" stroke-width="1.15"/>
<circle cx="425.45" cy="547.00" r="3.75" fill="#ffc080" stroke="#333" stroke-width="1.15"/>
<circle cx="426.25" cy="549.30" r="3.75" fill="#ffc080" stroke="#333" stroke-width="1.15"/>
<circle cx="417.85" cy="550.80" r="3.75" fill="#ffc080" stroke="#333" stroke-width="1.15"/>
<circle cx="414.95" cy="556.80" r="3.75" fill="#ffc080" stroke="#333" stroke-width="1.15"/>
<circle cx="413.55" cy="555.10" r="3.75" fill="#ffc080" stroke="#333" stroke-width="1.15"/>
<circle cx="411.95" cy="543.60" r="3.75" fill="#ffc080" stroke="#333" stroke-width="1.15"/>
<circle cx="425.25" cy="544.10" r="3.75" fill="#ffc080" stroke="#333" stroke-width="1.15"/>
<circle cx="419.75" cy="546.60" r="3.75" fill="#ffc080" stroke="#333" stroke-width="1.15"/>
<circle cx="411.85" cy="549.40" r="3.75" fill="#ffc080" stroke="#333" stroke-width="1.15"/>
<circle cx="423.15" cy="551.40" r="3.75" fill="#ffc080" stroke="#333" stroke-width="1.15"/>
<circle cx="418.15" cy="555.80" r="3.75" fill="#ffc080" stroke="#333" stroke-width="1.15"/>
<circle cx="460.85" cy="366.00" r="3.75" fill="#91bff9" stroke="#111" stroke-width="1.15"/>
<circle cx="466.25" cy="370.50" r="3.75" fill="#91bff9" stroke="#111" stroke-width="1.15"/>
<circle cx="474.25" cy="369.10" r="3.75" fill="#91bff9" stroke="#111" stroke-width="1.15"/>
<circle cx="460.65" cy="377.20" r="3.75" fill="#91bff9" stroke="#111" stroke-width="1.15"/>
<circle cx="471.15" cy="375.00" r="3.75" fill="#91bff9" stroke="#111" stroke-width="1.15"/>
<circle cx="466.25" cy="383.00" r="3.75" fill="#91bff9" stroke="#111" stroke-width="1.15"/>
<circle cx="466.25" cy="394.90" r="3.75" fill="#91bff9" stroke="#111" stroke-width="1.15"/>
<circle cx="487.95" cy="371.40" r="3.75" fill="#ffc080" stroke="#333" stroke-width="1.15"/>
<circle cx="510.05" cy="368.80" r="3.75" fill="#ffc080" stroke="#333" stroke-width="1.15"/>
<circle cx="492.15" cy="381.10" r="3.75" fill="#ffc080" stroke="#333" stroke-width="1.15"/>
<circle cx="493.25" cy="377.00" r="3.75" fill="#ffc080" stroke="#333" stroke-width="1.15"/>
<circle cx="504.25" cy="376.60" r="3.75" fill="#ffc080" stroke="#333" stroke-width="1.15"/>
<circle cx="501.05" cy="386.10" r="3.75" fill="#ffc080" stroke="#333" stroke-width="1.15"/>
<circle cx="497.15" cy="384.50" r="3.75" fill="#ffc080" stroke="#333" stroke-width="1.15"/>
<circle cx="504.45" cy="382.60" r="3.75" fill="#ffc080" stroke="#333" stroke-width="1.15"/>
<circle cx="492.75" cy="400.70" r="3.75" fill="#ffc080" stroke="#333" stroke-width="1.15"/>
<circle cx="496.65" cy="403.50" r="3.75" fill="#ffc080" stroke="#333" stroke-width="1.15"/>
<circle cx="493.25" cy="397.90" r="3.75" fill="#ffc080" stroke="#333" stroke-width="1.15"/>
<circle cx="504.25" cy="397.90" r="3.75" fill="#ffc080" stroke="#333" stroke-width="1.15"/>
<circle cx="500.55" cy="401.20" r="3.75" fill="#ffc080" stroke="#333" stroke-width="1.15"/>
<circle cx="542.05" cy="444.40" r="3.75" fill="#91bff9" stroke="#111" stroke-width="1.15"/>
<circle cx="552.65" cy="449.20" r="3.75" fill="#91bff9" stroke="#111" stroke-width="1.15"/>
<circle cx="541.45" cy="453.00" r="3.75" fill="#91bff9" stroke="#111" stroke-width="1.15"/>
<circle cx="547.15" cy="450.10" r="3.75" fill="#91bff9" stroke="#111" stroke-width="1.15"/>
<circle cx="558.15" cy="462.30" r="3.75" fill="#91bff9" stroke="#111" stroke-width="1.15"/>
<circle cx="552.65" cy="472.20" r="3.75" fill="#91bff9" stroke="#111" stroke-width="1.15"/>
<circle cx="541.75" cy="475.10" r="3.75" fill="#91bff9" stroke="#111" stroke-width="1.15"/>
<circle cx="574.75" cy="450.80" r="3.75" fill="#ffc080" stroke="#333" stroke-width="1.15"/>
<circle cx="585.45" cy="448.30" r="3.75" fill="#ffc080" stroke="#333" stroke-width="1.15"/>
<circle cx="585.75" cy="463.00" r="3.75" fill="#ffc080" stroke="#333" stroke-width="1.15"/>
<circle cx="583.95" cy="465.30" r="3.75" fill="#ffc080" stroke="#333" stroke-width="1.15"/>
<circle cx="575.15" cy="464.80" r="3.75" fill="#ffc080" stroke="#333" stroke-width="1.15"/>
<circle cx="582.25" cy="470.70" r="3.75" fill="#ffc080" stroke="#333" stroke-width="1.15"/>
<circle cx="577.15" cy="469.50" r="3.75" fill="#ffc080" stroke="#333" stroke-width="1.15"/>
<circle cx="578.95" cy="472.70" r="3.75" fill="#ffc080" stroke="#333" stroke-width="1.15"/>
<circle cx="574.85" cy="476.90" r="3.75" fill="#ffc080" stroke="#333" stroke-width="1.15"/>
<circle cx="583.35" cy="481.30" r="3.75" fill="#ffc080" stroke="#333" stroke-width="1.15"/>
<circle cx="585.15" cy="478.00" r="3.75" fill="#ffc080" stroke="#333" stroke-width="1.15"/>
<circle cx="577.45" cy="480.10" r="3.75" fill="#ffc080" stroke="#333" stroke-width="1.15"/>
<circle cx="580.15" cy="485.40" r="3.75" fill="#ffc080" stroke="#333" stroke-width="1.15"/>
<circle cx="628.15" cy="464.80" r="3.75" fill="#91bff9" stroke="#111" stroke-width="1.15"/>
<circle cx="622.75" cy="485.20" r="3.75" fill="#91bff9" stroke="#111" stroke-width="1.15"/>
<circle cx="633.85" cy="486.50" r="3.75" fill="#91bff9" stroke="#111" stroke-width="1.15"/>
<circle cx="626.25" cy="489.10" r="3.75" fill="#91bff9" stroke="#111" stroke-width="1.15"/>
<circle cx="630.95" cy="489.70" r="3.75" fill="#91bff9" stroke="#111" stroke-width="1.15"/>
<circle cx="633.75" cy="500.20" r="3.75" fill="#91bff9" stroke="#111" stroke-width="1.15"/>
<circle cx="622.85" cy="507.60" r="3.75" fill="#91bff9" stroke="#111" stroke-width="1.15"/>
<circle cx="661.15" cy="461.60" r="3.75" fill="#ffc080" stroke="#333" stroke-width="1.15"/>
<circle cx="655.95" cy="469.70" r="3.75" fill="#ffc080" stroke="#333" stroke-width="1.15"/>
<circle cx="666.45" cy="470.90" r="3.75" fill="#ffc080" stroke="#333" stroke-width="1.15"/>
<circle cx="655.55" cy="484.10" r="3.75" fill="#ffc080" stroke="#333" stroke-width="1.15"/>
<circle cx="666.85" cy="484.60" r="3.75" fill="#ffc080" stroke="#333" stroke-width="1.15"/>
<circle cx="656.55" cy="494.20" r="3.75" fill="#ffc080" stroke="#333" stroke-width="1.15"/>
<circle cx="657.45" cy="490.20" r="3.75" fill="#ffc080" stroke="#333" stroke-width="1.15"/>
<circle cx="661.05" cy="495.50" r="3.75" fill="#ffc080" stroke="#333" stroke-width="1.15"/>
<circle cx="653.85" cy="488.40" r="3.75" fill="#ffc080" stroke="#333" stroke-width="1.15"/>
<circle cx="668.35" cy="488.80" r="3.75" fill="#ffc080" stroke="#333" stroke-width="1.15"/>
<circle cx="666.85" cy="495.50" r="3.75" fill="#ffc080" stroke="#333" stroke-width="1.15"/>
<circle cx="661.05" cy="480.10" r="3.75" fill="#ffc080" stroke="#333" stroke-width="1.15"/>
<circle cx="655.65" cy="506.20" r="3.75" fill="#ffc080" stroke="#333" stroke-width="1.15"/>
</svg></body></html>
